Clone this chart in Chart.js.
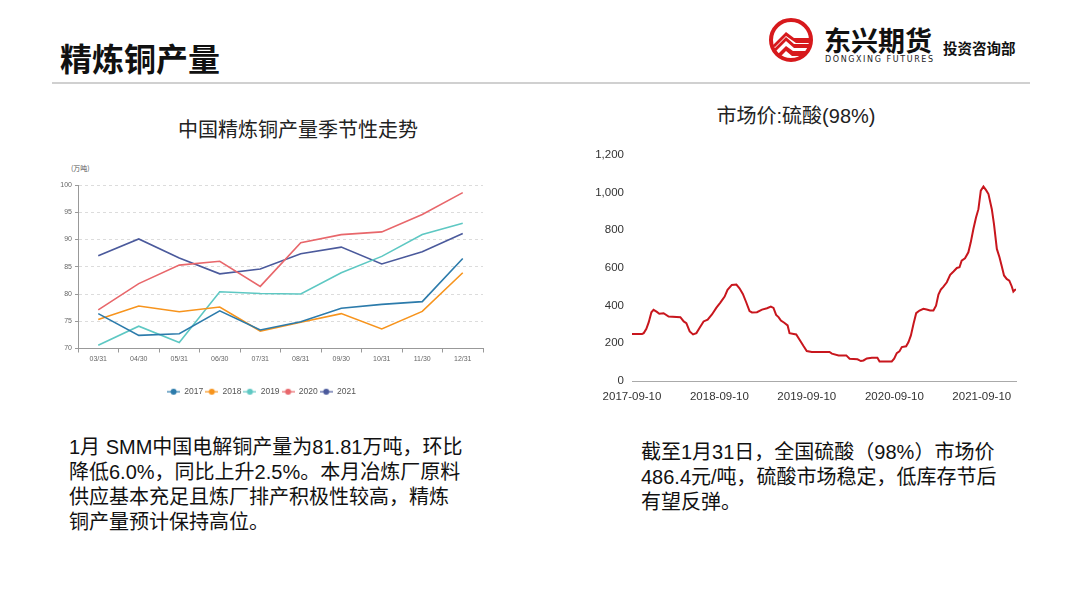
<!DOCTYPE html>
<html>
<head>
<meta charset="utf-8">
<script src="https://cdn.jsdelivr.net/npm/chart.js@4/dist/chart.umd.min.js"></script>
<style>
  body { margin: 0; width: 1080px; height: 604px; background: #fff; position: relative; overflow: hidden;
         font-family: "Liberation Sans", Arial, "Noto Sans CJK SC", sans-serif; }
  .abs { position: absolute; }
  #title { left: 60px; top: 34px; font-size: 32px; font-weight: bold; font-family: "Noto Sans CJK SC", sans-serif; color: #111; }
  #rule { left: 52px; top: 82px; width: 978px; height: 2px; background: #d0d0d0; }
  #leftTitle { left: 150px; top: 116px; width: 296px; text-align: center; font-size: 20px; color: #222;
               font-family: "Noto Sans CJK SC", sans-serif; line-height: 26px; }
  #rightTitle { left: 660px; top: 103px; width: 272px; text-align: center; font-size: 20px; color: #222; line-height: 26px; }
  #unit { left: 71px; top: 163px; font-size: 7px; color: #555; font-family: "Noto Sans CJK SC", sans-serif; }
  .para { font-size: 20px; line-height: 25px; color: #111; }
  #leftText { left: 69px; top: 435px; }
  #rightText { left: 641px; top: 440px; }
  #leftCanvas { left: 40px; top: 150px; }
  #rightCanvas { left: 590px; top: 140px; }
</style>
</head>
<body>
<div id="title" class="abs">精炼铜产量</div>
<div id="rule" class="abs"></div>

<svg class="abs" style="left:764px;top:16px" width="60" height="50" viewBox="0 0 60 50">
  <circle cx="27" cy="24" r="20" fill="#fff" stroke="#d7191c" stroke-width="4"/>
  <path d="M8 30 L22 16 L30 22 L46 22 L46 27 L32 27 L22 20 L11 31 Z" fill="#d7191c"/>
  <path d="M9 34 L22 21 L30 28 L46 28 L46 32 L30 32 L22 25 L12 35 Z" fill="#d7191c"/>
  <path d="M14 38 L22 30 L29 35 L44 35 L40 40 L28 40 L22 35 L17 40 Z" fill="#d7191c"/>
</svg>
<div class="abs" style="left:824px;top:24px;font-size:27px;font-weight:bold;font-family:'Noto Sans CJK SC';color:#111;line-height:32px">东兴期货</div>
<div class="abs" style="left:825px;top:55px;font-size:8px;color:#222;letter-spacing:1.6px;font-family:'DejaVu Sans'">DONGXING FUTURES</div>
<div class="abs" style="left:943px;top:37px;font-size:14.5px;font-weight:bold;font-family:'Noto Sans CJK SC';color:#111">投资咨询部</div>

<div id="leftTitle" class="abs">中国精炼铜产量季节性走势</div>
<div id="rightTitle" class="abs">市场价:硫酸(98%)</div>
<div id="unit" class="abs">(万吨)</div>

<canvas id="leftCanvas" class="abs" width="460" height="260"></canvas>
<canvas id="rightCanvas" class="abs" width="440" height="270"></canvas>

<div id="leftText" class="abs para">1月 SMM中国电解铜产量为81.81万吨，环比<br>降低6.0%，同比上升2.5%。本月冶炼厂原料<br>供应基本充足且炼厂排产积极性较高，精炼<br>铜产量预计保持高位。</div>
<div id="rightText" class="abs para">截至1月31日，全国硫酸（98%）市场价<br>486.4元/吨，硫酸市场稳定，低库存节后<br>有望反弹。</div>

<script>
// seasonal copper output (万吨)
const months = ['03/31', '04/30', '05/31', '06/30', '07/31', '08/31', '09/30', '10/31', '11/30', '12/31'];
const years = ['2017', '2018', '2019', '2020', '2021'];
const y2017 = [76.4, 72.4, 72.7, 76.9, 73.4, 74.9, 77.4, 78.1, 78.6, 86.5];
const y2018 = [75.3, 77.8, 76.75, 77.6, 73.2, 74.8, 76.4, 73.6, 76.8, 83.9];
const y2019 = [70.6, 74.1, 71.1, 80.4, 80.1, 80.0, 83.9, 86.9, 90.9, 93.0];
const y2020 = [77.1, 81.9, 85.3, 86.0, 81.4, 89.4, 90.9, 91.4, 94.6, 98.6];
const y2021 = [87.0, 90.1, 86.6, 83.7, 84.6, 87.4, 88.6, 85.5, 87.75, 91.1];
const yearColors = ['#2c7bab', '#f7941d', '#5ec8c3', '#e8676b', '#4b5a9c'];

// sulfuric acid 98% market price
const acidDates = [
  '2017-09-10', '2017-10-22', '2017-10-29', '2017-11-09', '2017-11-19', '2017-11-30', '2017-12-09', '2017-12-23',
  '2018-01-02', '2018-01-20', '2018-02-10', '2018-03-31', '2018-04-14', '2018-04-25', '2018-05-09', '2018-05-23',
  '2018-06-06', '2018-06-19', '2018-07-06', '2018-07-23', '2018-08-10', '2018-08-28', '2018-09-14', '2018-10-02',
  '2018-10-14', '2018-11-01', '2018-11-20', '2018-12-03', '2018-12-17', '2018-12-31', '2019-01-14', '2019-01-24',
  '2019-02-14', '2019-03-07', '2019-03-28', '2019-04-13', '2019-04-24', '2019-05-05', '2019-05-15', '2019-05-25',
  '2019-06-08', '2019-06-22', '2019-06-30', '2019-07-28', '2019-08-11', '2019-08-28', '2019-09-10', '2019-10-01',
  '2019-12-14', '2019-12-24', '2020-01-21', '2020-02-22', '2020-03-07', '2020-04-09', '2020-04-23', '2020-05-04',
  '2020-05-18', '2020-06-08', '2020-07-01', '2020-07-10', '2020-08-30', '2020-09-09', '2020-09-20', '2020-10-01',
  '2020-10-11', '2020-10-29', '2020-11-08', '2020-11-18', '2020-11-29', '2020-12-10', '2020-12-24', '2021-01-09',
  '2021-01-23', '2021-02-06', '2021-02-20', '2021-03-03', '2021-03-13', '2021-03-23', '2021-04-03', '2021-04-17',
  '2021-05-01', '2021-05-15', '2021-05-29', '2021-06-09', '2021-06-18', '2021-07-02', '2021-07-16', '2021-07-26',
  '2021-08-06', '2021-08-17', '2021-08-27', '2021-09-06', '2021-09-17', '2021-09-28', '2021-10-08', '2021-10-22',
  '2021-10-31', '2021-11-12', '2021-11-23', '2021-12-02', '2021-12-12', '2021-12-23', '2022-01-03', '2022-01-13',
  '2022-01-20', '2022-01-27', '2022-01-31'
];
const acidPrice = [
  250, 250, 254, 277, 312, 365, 378, 367,
  357, 360, 342, 339, 316, 307, 263, 247,
  254, 281, 316, 326, 353, 388, 416, 448,
  484, 510, 512, 492, 462, 418, 371, 364,
  365, 379, 386, 395, 388, 351, 339, 321,
  309, 295, 254, 247, 219, 184, 159, 154,
  154, 145, 136, 136, 118, 115, 106, 109,
  120, 124, 124, 104, 104, 118, 148, 157,
  180, 184, 207, 242, 304, 360, 374, 383,
  379, 374, 374, 400, 459, 485, 501, 524,
  563, 581, 600, 604, 639, 651, 683, 736,
  807, 868, 912, 1010, 1032, 1013, 992, 912,
  833, 701, 657, 612, 560, 542, 533, 503,
  475, 484, 486.4
];
const acidTickDates = ['2017-09-10', '2018-09-10', '2019-09-10', '2020-09-10', '2021-09-10'];

const DAY = 86400000;
const t0 = Date.parse(acidDates[0]);
const toDay = d => Math.round((Date.parse(d) - t0) / DAY);
const fromDay = v => new Date(t0 + v * DAY).toISOString().slice(0, 10);

// legend icon: short line with a dot
function legendIcon(color) {
  const c = document.createElement('canvas');
  c.width = 13; c.height = 8;
  const g = c.getContext('2d');
  g.strokeStyle = color; g.lineWidth = 1.2;
  g.beginPath(); g.moveTo(0, 4); g.lineTo(13, 4); g.stroke();
  g.fillStyle = color;
  g.beginPath(); g.arc(6.5, 4, 3, 0, Math.PI * 2); g.fill();
  return c;
}

const smallFont = { family: "'Liberation Sans Narrow', Arial, sans-serif", size: 7 };
const seasonal = [y2017, y2018, y2019, y2020, y2021];

new Chart(document.getElementById('leftCanvas'), {
  type: 'line',
  data: {
    labels: months,
    datasets: seasonal.map((vals, i) => ({
      label: years[i],
      data: vals,
      borderColor: yearColors[i],
      backgroundColor: yearColors[i],
      borderWidth: 1.6,
      pointRadius: 0,
      pointStyle: legendIcon(yearColors[i]),
      tension: 0
    }))
  },
  options: {
    responsive: false,
    animation: false,
    layout: { padding: { top: 35, right: 17, bottom: 4, left: 0 } },
    plugins: {
      tooltip: { enabled: false },
      legend: {
        position: 'bottom',
        labels: { usePointStyle: true, pointStyleWidth: 13, boxHeight: 8, padding: 2, color: '#555',
                  font: { family: smallFont.family, size: 8.5 } }
      }
    },
    scales: {
      x: {
        offset: true,
        grid: { display: true, drawOnChartArea: false, offset: true, tickLength: 4, color: '#999' },
        border: { color: '#999' },
        ticks: { color: '#666', font: smallFont, maxRotation: 0, padding: 2 },
        afterFit: s => { s.height = 37; }
      },
      y: {
        min: 70, max: 100,
        ticks: { stepSize: 5, color: '#666', font: smallFont, padding: 3 },
        grid: { color: ctx => ctx.tick.value === 70 ? 'rgba(0,0,0,0)' : '#dcdcdc', tickLength: 3, tickColor: '#999' },
        border: { color: '#999', dash: [3, 3] },
        afterFit: s => { s.width = 38; }
      }
    }
  }
});

new Chart(document.getElementById('rightCanvas'), {
  type: 'line',
  data: {
    datasets: [{
      label: '市场价:硫酸(98%)',
      data: acidDates.map((d, i) => ({ x: toDay(d), y: acidPrice[i] })),
      borderColor: '#c8161d',
      borderWidth: 2,
      pointRadius: 0,
      tension: 0
    }]
  },
  options: {
    responsive: false,
    animation: false,
    layout: { padding: { top: 14, right: 14, bottom: 0, left: 0 } },
    plugins: { legend: { display: false }, tooltip: { enabled: false } },
    scales: {
      x: {
        type: 'linear',
        min: 0,
        max: toDay(acidDates[acidDates.length - 1]),
        afterBuildTicks: s => { s.ticks = acidTickDates.map(d => ({ value: toDay(d) })); },
        ticks: { callback: v => fromDay(v), color: '#333', font: { family: 'Liberation Sans, Arial', size: 11.5 },
                 maxRotation: 0, autoSkip: false, padding: 9 },
        grid: { display: false, drawTicks: false },
        border: { color: '#aaa' },
        afterFit: s => { s.height = 29; }
      },
      y: {
        min: 0, max: 1200,
        ticks: { stepSize: 200, color: '#333', font: { family: 'Liberation Sans, Arial', size: 11.5 }, padding: 8 },
        grid: { display: false, drawTicks: false },
        border: { display: false },
        afterFit: s => { s.width = 42; }
      }
    }
  }
});
</script>
</body>
</html>
